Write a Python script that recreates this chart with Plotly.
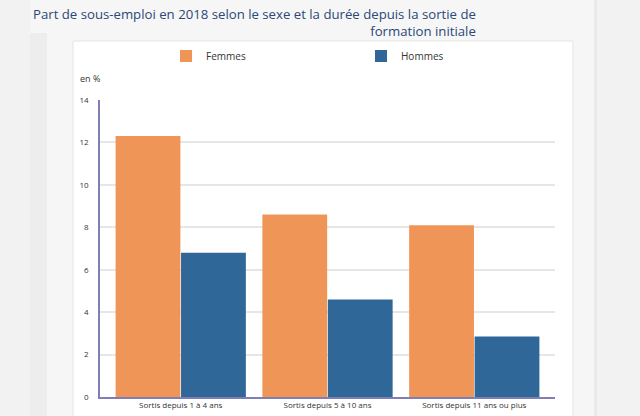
import plotly.graph_objects as go

# data
categories = ['Sortis depuis 1 à 4 ans', 'Sortis depuis 5 à 10 ans', 'Sortis depuis 11 ans ou plus']
femmes = [12.3, 8.6, 8.1]
hommes = [6.8, 4.6, 2.85]

W, H = 640, 416


def px_x(v):
    return v / W


def px_y(v):
    return 1 - v / H


fig = go.Figure()
fig.add_trace(go.Bar(
    x=categories,
    y=femmes,
    name='Femmes',
    marker=dict(color='#f09558', line=dict(width=0)),
    hoverinfo='y'
))
fig.add_trace(go.Bar(
    x=categories,
    y=hommes,
    name='Hommes',
    marker=dict(color='#2f6799', line=dict(width=0)),
    hoverinfo='y'
))

# page background blocks
shapes = [
    dict(type='rect', xref='paper', yref='paper', x0=px_x(30), x1=px_x(595),
         y0=0, y1=1, fillcolor='#f6f6f6', line=dict(width=0), layer='below'),
    dict(type='rect', xref='paper', yref='paper', x0=px_x(30), x1=px_x(47),
         y0=0, y1=px_y(33), fillcolor='#ededed', line=dict(width=0), layer='below'),
    dict(type='rect', xref='paper', yref='paper', x0=px_x(594), x1=px_x(597),
         y0=0, y1=1, fillcolor='#e9e9e9', line=dict(width=0), layer='below'),
    dict(type='rect', xref='paper', yref='paper', x0=px_x(73), x1=px_x(573),
         y0=-0.01, y1=px_y(41), fillcolor='white',
         line=dict(width=1, color='#e4e4e4'), layer='below'),
]

fig.update_layout(
    template='none',
    width=W,
    height=H,
    autosize=False,
    margin=dict(l=0, r=0, t=0, b=0, pad=0),
    paper_bgcolor='#f2f2f2',
    plot_bgcolor='rgba(0,0,0,0)',
    font=dict(family='Open Sans, sans-serif', color='#333333', size=8),
    barmode='group',
    bargap=0.108,
    bargroupgap=0.01,
    shapes=shapes,
    showlegend=True,
    legend=dict(
        orientation='h',
        x=px_x(166), xanchor='left',
        y=px_y(56), yanchor='middle',
        font=dict(size=10, color='#333333'),
        entrywidth=150, entrywidthmode='pixels',
        bgcolor='rgba(0,0,0,0)',
        borderwidth=0,
        itemclick=False,
    ),
    xaxis=dict(
        domain=[px_x(100), px_x(555)],
        range=[-0.55, 2.55],
        automargin=False,
        showline=True, linecolor='#7f7fb5', linewidth=1.5,
        showgrid=False, zeroline=False, ticks='',
        tickfont=dict(size=8, color='#333333'),
        fixedrange=True,
    ),
    yaxis=dict(
        domain=[px_y(397), px_y(100)],
        automargin=False,
        range=[0, 14], dtick=2,
        showline=True, linecolor='#7f7fb5', linewidth=1.5,
        showgrid=True, gridcolor='#e6e6e6', gridwidth=1.5,
        zeroline=False, ticks='', ticklabelstandoff=8,
        tickfont=dict(size=8, color='#333333'),
        fixedrange=True,
    ),
    annotations=[
        dict(
            text='Part de sous-emploi en 2018 selon le sexe et la durée depuis la sortie de<br>formation initiale',
            xref='paper', yref='paper', x=px_x(31), y=px_y(3),
            xanchor='left', yanchor='top', align='right', showarrow=False,
            font=dict(size=13.2, color='#2b4877', family='Open Sans, sans-serif'),
        ),
        dict(
            text='en %', xref='paper', yref='paper', x=px_x(78), y=px_y(78),
            xanchor='left', yanchor='middle', showarrow=False,
            font=dict(size=9, color='#333333'),
        ),
    ],
)

# page margin off so the figure sits at the window corner
fig.write_html(
    'out.html',
    config={'responsive': False, 'displayModeBar': False},
    post_script="document.body.style.margin='0';document.body.style.overflow='hidden';",
)
